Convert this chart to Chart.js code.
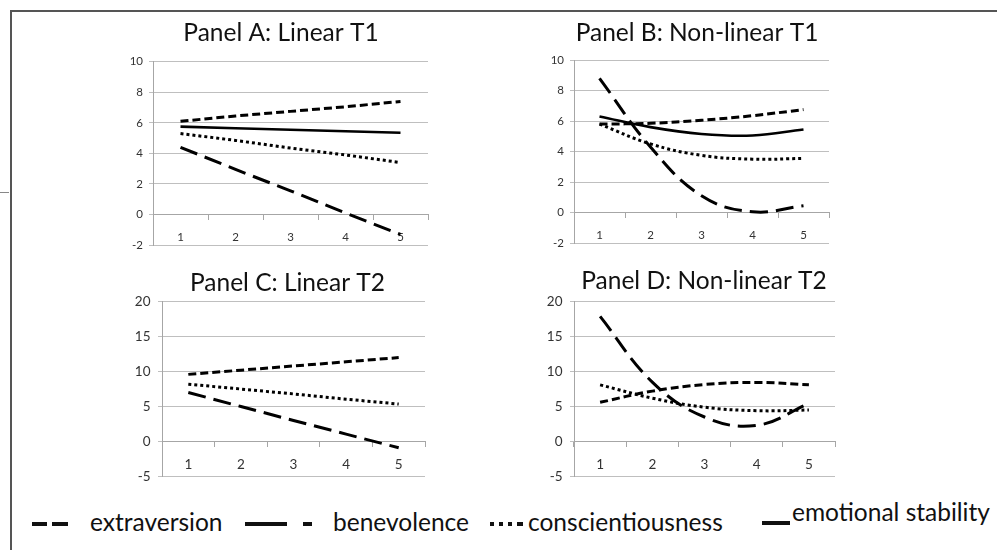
<!DOCTYPE html>
<html><head><meta charset="utf-8">
<script src="https://cdn.jsdelivr.net/npm/chart.js@4.4.1/dist/chart.umd.min.js"></script>
<style>
html,body{margin:0;padding:0;background:#fff;}
body{width:997px;height:550px;position:relative;overflow:hidden;font-family:Lato,'Open Sans',sans-serif;}
canvas{position:absolute;}
.fr{position:absolute;background:#555;}
.leg{position:absolute;font-size:24.5px;line-height:24.5px;color:#111;white-space:nowrap;}
.ico{position:absolute;background:#111;}
</style></head>
<body>
<div class="fr" style="left:10px;top:10px;width:987px;height:1.5px"></div>
<div class="fr" style="left:10px;top:10px;width:1.5px;height:540px"></div>
<div class="fr" style="left:0px;top:192px;width:9px;height:1px;background:#888"></div>

<canvas id="cA"></canvas><canvas id="cB"></canvas><canvas id="cC"></canvas><canvas id="cD"></canvas>

<div class="ico" style="left:32px;top:522px;width:15px;height:4px"></div>
<div class="ico" style="left:52px;top:522px;width:16px;height:4px"></div>
<div class="leg" style="left:90px;top:510px">extraversion</div>
<div class="ico" style="left:245px;top:522px;width:42px;height:4px"></div>
<div class="ico" style="left:303px;top:522px;width:9px;height:4px"></div>
<div class="leg" style="left:333px;top:510px">benevolence</div>
<div class="ico" style="left:490px;top:522px;width:4px;height:4px"></div>
<div class="ico" style="left:499px;top:522px;width:4px;height:4px"></div>
<div class="ico" style="left:508px;top:522px;width:4px;height:4px"></div>
<div class="ico" style="left:517px;top:522px;width:6px;height:4px"></div>
<div class="leg" style="left:528px;top:510px">conscientiousness</div>
<div class="ico" style="left:762px;top:521px;width:28px;height:4px"></div>
<div class="leg" style="left:792px;top:500px">emotional stability</div>

<script>
// ---- data ----
const categories = ['1', '2', '3', '4', '5'];
const seriesNames = ['extraversion', 'benevolence', 'conscientiousness', 'emotional stability'];
const panelTitles = ['Panel A: Linear T1', 'Panel B: Non-linear T1', 'Panel C: Linear T2', 'Panel D: Non-linear T2'];

// Panel A: Linear T1
const aExtraversion   = [6.1, 6.45, 6.75, 7.05, 7.4];
const aBenevolence    = [4.4, 2.95, 1.55, 0.1, -1.3];
const aConscientious  = [5.3, 4.85, 4.35, 3.9, 3.4];
const aEmotional      = [5.75, 5.65, 5.55, 5.45, 5.35];
// Panel B: Non-linear T1
const bExtraversion   = [5.8, 5.85, 6.05, 6.35, 6.75];
const bBenevolence    = [8.8, 4.3, 1.1, 0.05, 0.45];
const bConscientious  = [5.8, 4.5, 3.75, 3.5, 3.55];
const bEmotional      = [6.3, 5.6, 5.15, 5.05, 5.45];
// Panel C: Linear T2
const cExtraversion   = [9.6, 10.2, 10.8, 11.4, 12.0];
const cBenevolence    = [7.0, 5.0, 3.0, 1.05, -0.9];
const cConscientious  = [8.2, 7.5, 6.8, 6.05, 5.35];
// Panel D: Non-linear T2
const dExtraversion   = [5.6, 7.2, 8.15, 8.45, 8.1];
const dBenevolence    = [17.9, 8.5, 3.5, 2.3, 5.45];
const dConscientious  = [8.1, 6.2, 4.9, 4.4, 4.5];

// y-axis ticks
const yTicksT1 = [-2, 0, 2, 4, 6, 8, 10];
const yTicksT2 = [-5, 0, 5, 10, 15, 20];

// ---- styles ----
const FONT = 'Lato, "Open Sans", sans-serif';
const styleOf = {
  'extraversion':        {borderDash: [8, 4], borderWidth: 3},
  'benevolence':         {borderDash: [18, 8], borderWidth: 3},
  'conscientiousness':   {borderDash: [3, 3], borderWidth: 3},
  'emotional stability': {borderDash: [], borderWidth: 2.6}
};

function ds(name, data, smooth) {
  return Object.assign({
    label: name, data: data, borderColor: '#000', backgroundColor: '#000',
    pointRadius: 0, fill: false, borderCapStyle: 'butt',
    tension: smooth ? 0.4 : 0, yAxisID: 'y'
  }, styleOf[name]);
}

// layout: canvas box, plot area box and title centre for each panel
const panels = [
  {id: 'cA', title: panelTitles[0], left: 100, top: 0, height: 258,
   plot: {left: 153, right: 428, top: 61.7, bottom: 248.3}, titleX: 281, titleY: 33, yTicks: yTicksT1, tickSize: 11.5, xPad: 11, yPad: 6,
   datasets: [ds('extraversion', aExtraversion), ds('benevolence', aBenevolence), ds('conscientiousness', aConscientious), ds('emotional stability', aEmotional)]},
  {id: 'cB', title: panelTitles[1], left: 520, top: 0, height: 256,
   plot: {left: 574, right: 829, top: 60, bottom: 246}, titleX: 697, titleY: 33, yTicks: yTicksT1, tickSize: 11.5, xPad: 11, yPad: 6,
   datasets: [ds('extraversion', bExtraversion, true), ds('benevolence', bBenevolence, true), ds('conscientiousness', bConscientious, true), ds('emotional stability', bEmotional, true)]},
  {id: 'cC', title: panelTitles[2], left: 110, top: 265, height: 227,
   plot: {left: 162, right: 425, top: 301.7, bottom: 482}, titleX: 287.5, titleY: 283, yTicks: yTicksT2, tickSize: 13.5, xPad: 10, yPad: 7.5,
   datasets: [ds('extraversion', cExtraversion), ds('benevolence', cBenevolence), ds('conscientiousness', cConscientious)]},
  {id: 'cD', title: panelTitles[3], left: 520, top: 265, height: 227,
   plot: {left: 574, right: 835, top: 301.7, bottom: 482}, titleX: 704, titleY: 281, yTicks: yTicksT2, tickSize: 13.5, xPad: 10, yPad: 7.5,
   datasets: [ds('extraversion', dExtraversion, true), ds('benevolence', dBenevolence, true), ds('conscientiousness', dConscientious, true)]}
];

const TITLE_SIZE = 24.5, TITLE_LH = 1.2;
panels.forEach(p => {
  const cv = document.getElementById(p.id);
  const width = Math.round(2 * (p.titleX - p.left));   // title centred over the canvas
  const yW = p.plot.left - p.left;                     // left axis width
  const rW = p.left + width - p.plot.right;            // spacer on the right
  cv.width = width; cv.height = p.height;
  cv.style.left = p.left + 'px'; cv.style.top = p.top + 'px';
  const lh = TITLE_SIZE * TITLE_LH;
  const padTop = p.titleY - p.top - lh / 2;
  const padBottom = p.plot.top - p.top - padTop - lh;
  const yMin = p.yTicks[0], yMax = p.yTicks[p.yTicks.length - 1];
  new Chart(cv, {
    type: 'line',
    data: {labels: categories, datasets: p.datasets},
    options: {
      responsive: false, animation: false, devicePixelRatio: 1,
      layout: {padding: {left: 0, top: 0, right: 0, bottom: (p.top + p.height) - p.plot.bottom}},
      plugins: {
        legend: {display: false}, tooltip: {enabled: false},
        title: {display: true, text: p.title, color: '#111',
          font: {family: FONT, size: TITLE_SIZE, weight: 'normal', lineHeight: TITLE_LH},
          padding: {top: padTop, bottom: padBottom}}
      },
      scales: {
        x: {
          type: 'category', position: {y: 0}, offset: true,
          grid: {offset: true, drawOnChartArea: false, drawTicks: true, tickLength: 5, color: '#a6a6a6'},
          border: {display: true, color: '#a6a6a6', width: 1},
          ticks: {color: '#333', font: {family: FONT, size: p.tickSize}, padding: p.xPad, maxRotation: 0, autoSkip: false}
        },
        y: {
          position: 'left', min: yMin, max: yMax,
          afterBuildTicks: s => { s.ticks = p.yTicks.map(v => ({value: v})); },
          afterFit: s => { s.width = yW; },
          grid: {color: '#bfbfbf', tickLength: 4, lineWidth: 1},
          border: {display: true, color: '#a6a6a6', width: 1},
          ticks: {color: '#333', font: {family: FONT, size: p.tickSize}, padding: p.yPad}
        },
        spacer: {
          type: 'linear', axis: 'y', position: 'right', display: true,
          grid: {display: false, drawTicks: false}, border: {display: false},
          ticks: {display: false},
          afterFit: s => { s.width = rW; }
        }
      }
    }
  });
});
</script>
</body></html>
